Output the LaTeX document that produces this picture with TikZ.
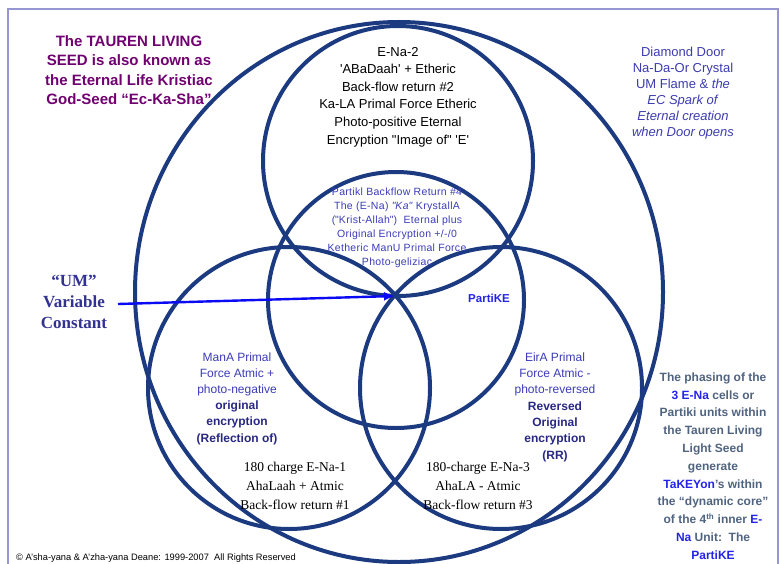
\documentclass[tikz,border=0pt]{standalone}
\usepackage{fontspec}
\setmainfont{Liberation Serif}
\setsansfont{Liberation Sans}
\usetikzlibrary{arrows.meta, calc}
\definecolor{ringcol}{RGB}{28,58,128}
\definecolor{framecol}{RGB}{150,150,210}
\definecolor{seedcol}{RGB}{112,0,112}
\definecolor{doorcol}{RGB}{60,60,175}
\definecolor{cellcol}{RGB}{60,60,185}
\definecolor{celldark}{RGB}{40,40,130}
\definecolor{corecol}{RGB}{35,35,235}
\definecolor{phasecol}{RGB}{80,100,128}
\definecolor{umcol}{RGB}{50,50,145}
\definecolor{arrowcol}{RGB}{10,10,245}

\begin{document}
\begin{tikzpicture}[
    x=1pt, y=-1pt,
    ring/.style={ringcol, line width=4pt},
    arr/.style={-{Latex[length=11pt, width=9pt]}, line width=2.4pt},
    txt/.style={align=center, inner sep=0pt},
]

\useasboundingbox (0,0) rectangle (781,564);
\fill[white] (0,0) rectangle (781,564);

% ════════════════════════════════════════════════════════
% 0. FRAME
% ════════════════════════════════════════════════════════
\draw[framecol, line width=1.3pt] (8,580) -- (8,9) -- (778,9) -- (778,580);

% ════════════════════════════════════════════════════════
% 1. SEED CIRCLES
% ════════════════════════════════════════════════════════
\coordinate (SEED) at (399,292);
\coordinate (core) at (395,296);

\draw[ring] (SEED) ellipse [x radius=264pt, y radius=270pt];
\draw[ring] (398,161) circle (135pt);   % E-Na-2
\draw[ring] (396,300) circle (128pt);   % inner PartiKE
\draw[ring] (289,388) circle (141pt);   % E-Na-1
\draw[ring] (501,388) circle (141pt);   % E-Na-3

% ════════════════════════════════════════════════════════
% 2. CORNER TEXTS
% ════════════════════════════════════════════════════════
\node[txt, text=seedcol, font=\fontsize{15}{19.3}\selectfont\sffamily\bfseries]
    (seedtxt) at (129,70)
    {The TAUREN LIVING\\SEED is also known as\\the Eternal Life Kristiac\\God-Seed “Ec-Ka-Sha”};

\node[txt, text=doorcol, font=\fontsize{13}{16.1}\selectfont\sffamily]
    (doortxt) at (683,93)
    {Diamond Door\\Na-Da-Or Crystal\\UM Flame \& \textit{the}\\\textit{EC Spark of}\\
     \textit{Eternal creation}\\\textit{when Door opens}};

\node[txt, text=umcol, font=\fontsize{17}{21}\selectfont\bfseries]
    (umtxt) at (74,302)
    {“UM”\\Variable\\Constant};

\node[txt, text=phasecol, font=\fontsize{12}{17.8}\selectfont\sffamily\bfseries]
    (phasetxt) at (713,466)
    {The phasing of the\\\textcolor{corecol}{3 E-Na} cells or\\Partiki units within\\
     the Tauren Living\\Light Seed\\generate\\\textcolor{corecol}{TaKEYon}'s within\\
     the “dynamic core”\\of the 4\textsuperscript{th} inner \textcolor{corecol}{E-}\\
     \textcolor{corecol}{Na} Unit:\ \ The\\\textcolor{corecol}{PartiKE}};

\node[anchor=west, inner sep=0pt, text=black, font=\fontsize{9.3}{11}\selectfont\sffamily]
    (copytxt) at (16,558)
    {© A’sha-yana \& A’zha-yana Deane: 1999-2007\ \ All Rights Reserved};

% ════════════════════════════════════════════════════════
% 3. CELL TEXTS
% ════════════════════════════════════════════════════════
\node[txt, text=black, font=\fontsize{13}{17.6}\selectfont\sffamily]
    (ena2txt) at (398,97)
    {E-Na-2\\\textquotesingle ABaDaah\textquotesingle{} + Etheric\\Back-flow return \#2\\
     Ka-LA Primal Force Etheric\\Photo-positive Eternal\\
     Encryption \textquotedbl Image of\textquotedbl{} \textquotesingle E\textquotesingle};

\node[txt, text=cellcol, font=\fontsize{10.5}{14}\selectfont\sffamily\addfontfeature{LetterSpace=3}]
    (coretxt) at (397,228)
    {Partikl Backflow Return \#4\\The (E-Na) \textit{\textquotedbl Ka\textquotedbl} KrystallA\\
     (\textquotedbl Krist-Allah\textquotedbl)\ \ Eternal plus\\Original Encryption +/-/0\\
     Ketheric ManU Primal Force\\Photo-geliziac};

\node[txt, text=corecol, font=\fontsize{11.5}{14}\selectfont\sffamily\bfseries]
    (partike) at (489,298) {PartiKE};

\node[txt, text=cellcol, font=\fontsize{12}{16.2}\selectfont\sffamily]
    (ena1txt) at (237,398.5)
    {ManA Primal\\Force Atmic +\\photo-negative\\
     \textcolor{celldark}{\bfseries original}\\\textcolor{celldark}{\bfseries encryption}\\
     \textcolor{celldark}{\bfseries (Reflection of)}};

\node[txt, text=cellcol, font=\fontsize{12}{16.3}\selectfont\sffamily]
    (ena3txt) at (555,407)
    {EirA Primal\\Force Atmic -\\photo-reversed\\
     \textcolor{celldark}{\bfseries Reversed}\\\textcolor{celldark}{\bfseries Original}\\
     \textcolor{celldark}{\bfseries encryption}\\\textcolor{celldark}{\bfseries (RR)}};

\node[txt, text=black, font=\fontsize{13.5}{19}\selectfont]
    (charge1) at (295,486)
    {180 charge E-Na-1\\AhaLaah + Atmic\\Back-flow return \#1};

\node[txt, text=black, font=\fontsize{13.5}{19}\selectfont]
    (charge3) at (478,486)
    {180-charge E-Na-3\\AhaLA - Atmic\\Back-flow return \#3};

% ════════════════════════════════════════════════════════
% 4. UM ARROW
% ════════════════════════════════════════════════════════
\coordinate (umstart) at (118,304);
\draw[arr, arrowcol] (umstart) -- (core);

\end{tikzpicture}
\end{document}
